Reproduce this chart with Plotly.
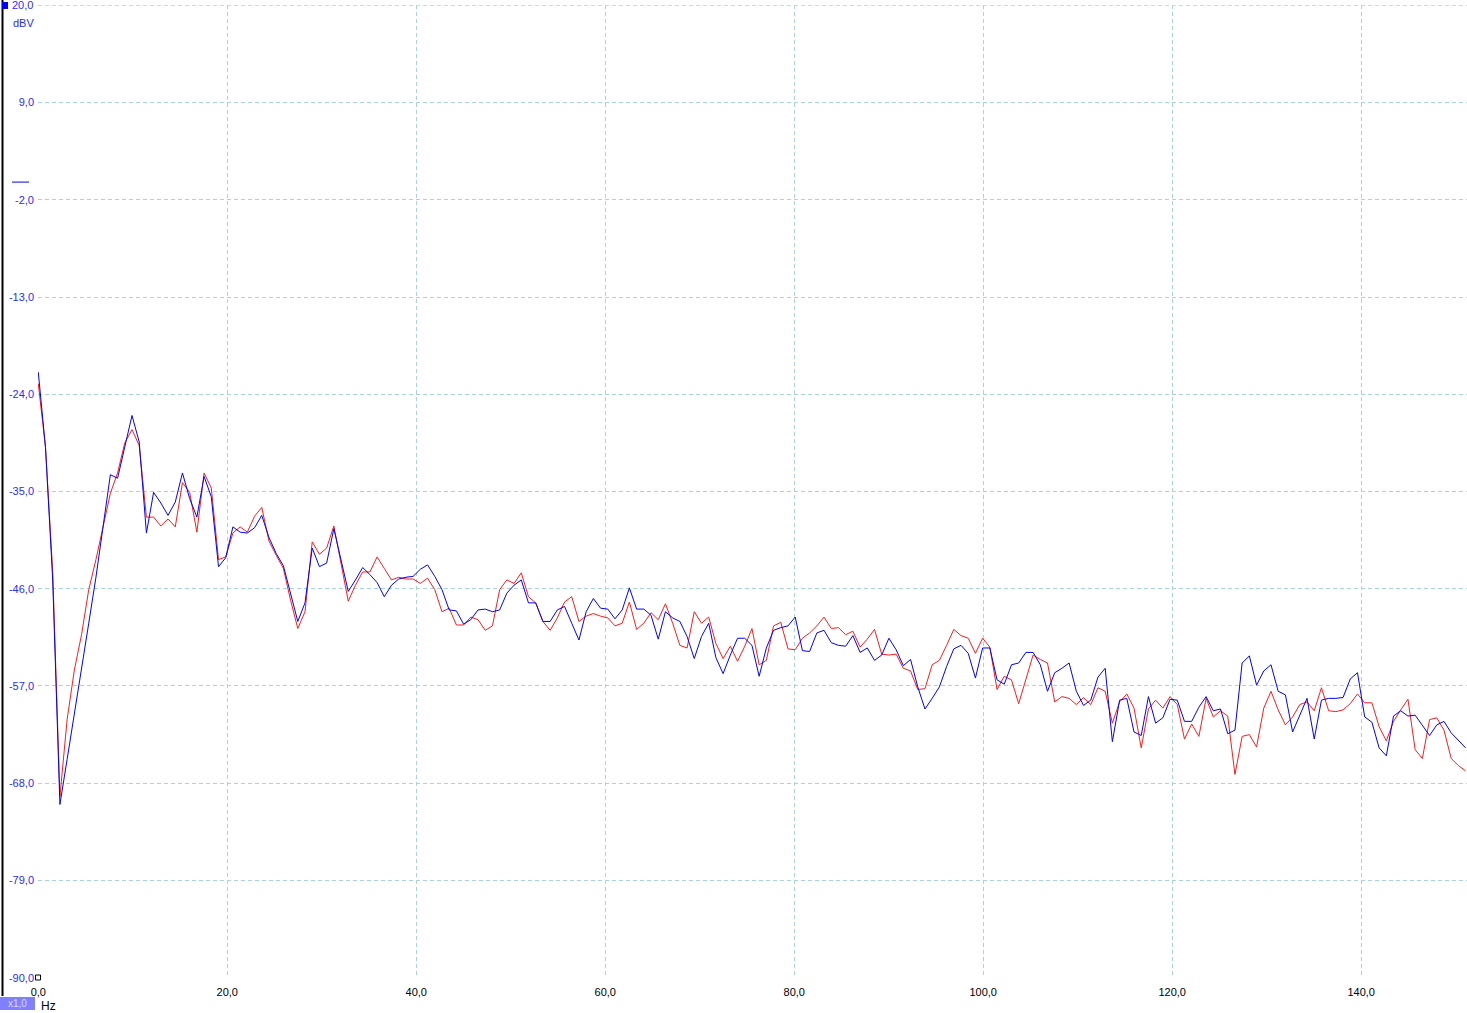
import plotly.graph_objects as go

BIN_HZ = 0.7629

x_tick_vals = [0, 20, 40, 60, 80, 100, 120, 140]
x_tick_text = ["0,0", "20,0", "40,0", "60,0", "80,0", "100,0", "120,0", "140,0"]
y_tick_vals = [20, 9, -2, -13, -24, -35, -46, -57, -68, -79, -90]
y_tick_text = ["20,0", "9,0", "-2,0", "-13,0", "-24,0", "-35,0", "-46,0", "-57,0", "-68,0", "-79,0", "-90,0"]

blue_dbv = [
    -21.5, -30.0, -45.0, -70.4, -65.3, -60.0, -55.2, -49.9, -44.7, -39.0,
    -33.1, -33.5, -30.0, -26.4, -29.4, -39.7, -35.1, -36.3, -37.7, -36.2,
    -32.9, -35.8, -37.9, -33.3, -35.6, -43.5, -42.5, -39.0, -39.6, -39.7,
    -39.1, -37.7, -40.2, -42.0, -43.4, -46.7, -49.7, -47.6, -41.4, -43.5,
    -43.1, -39.2, -42.6, -46.3, -45.0, -43.6, -44.4, -45.3, -46.9, -45.6,
    -44.9, -44.7, -44.6, -43.8, -43.3, -44.6, -46.1, -48.4, -48.5, -50.0,
    -49.5, -48.4, -48.3, -48.6, -48.4, -46.5, -45.6, -45.0, -47.6, -47.6,
    -49.7, -49.7, -48.4, -48.0, -49.9, -51.8, -48.6, -47.1, -48.2, -48.3,
    -49.4, -48.4, -45.9, -48.3, -48.3, -49.0, -51.7, -48.6, -49.3, -49.7,
    -51.4, -53.9, -51.4, -49.9, -53.8, -55.6, -53.5, -51.6, -51.6, -52.4,
    -55.9, -52.7, -50.7, -50.4, -50.2, -49.2, -53.0, -53.1, -51.0, -50.7,
    -52.1, -52.4, -52.5, -51.3, -53.2, -52.7, -54.1, -53.5, -51.6, -52.9,
    -54.7, -54.0, -57.1, -59.6, -58.4, -57.1, -54.8, -52.8, -52.4, -53.3,
    -56.1, -52.7, -52.7, -56.3, -56.8, -54.6, -54.4, -53.2, -53.2, -54.6,
    -57.6, -55.5, -55.0, -54.4, -57.6, -59.2, -58.6, -56.0, -55.0, -63.3,
    -58.6, -58.4, -62.2, -62.6, -58.2, -61.2, -60.6, -58.5, -58.6, -61.0,
    -61.0, -59.4, -58.2, -59.8, -59.6, -62.4, -62.0, -54.4, -53.6, -56.9,
    -55.3, -54.6, -57.6, -58.0, -62.2, -60.3, -58.4, -63.0, -58.6, -58.4,
    -58.4, -58.3, -56.2, -55.5, -60.5, -61.1, -64.0, -64.9, -60.4, -59.8,
    -60.4, -60.3, -61.4, -62.6, -61.4, -61.0, -62.3, -63.1, -64.0,
]

red_dbv = [
    -22.8, -30.0, -44.0, -69.5, -60.8, -55.2, -51.2, -46.1, -42.7, -39.0,
    -35.2, -32.9, -29.5, -28.0, -29.8, -37.9, -37.9, -38.9, -38.1, -39.0,
    -34.0, -35.1, -39.6, -32.9, -34.6, -42.7, -42.4, -39.7, -39.0, -39.6,
    -37.8, -36.8, -40.6, -42.2, -43.7, -47.3, -50.5, -48.6, -40.7, -42.1,
    -41.4, -38.9, -43.3, -47.4, -45.6, -44.1, -44.1, -42.4, -43.7, -45.0,
    -44.7, -44.9, -44.9, -45.4, -44.8, -46.1, -48.6, -48.2, -50.1, -50.1,
    -49.2, -49.5, -50.7, -50.2, -46.1, -45.0, -45.4, -44.2, -46.9, -47.6,
    -49.7, -50.7, -49.3, -47.5, -46.9, -49.7, -49.1, -48.8, -49.1, -49.3,
    -50.2, -49.9, -47.5, -50.6, -49.9, -48.7, -49.5, -47.7, -49.9, -52.4,
    -52.7, -48.6, -49.9, -49.2, -52.2, -53.9, -52.5, -54.2, -52.5, -50.5,
    -54.6, -54.1, -50.2, -49.8, -52.8, -52.9, -51.6, -51.0, -50.2, -49.2,
    -50.5, -50.4, -51.2, -50.8, -52.6, -51.7, -50.6, -53.4, -53.5, -53.4,
    -55.0, -55.3, -57.4, -57.3, -54.6, -54.1, -52.4, -50.6, -51.3, -51.6,
    -53.3, -51.6, -52.6, -57.4, -55.9, -56.3, -59.0, -56.1, -53.5, -54.0,
    -54.4, -58.8, -58.2, -58.4, -59.1, -58.3, -59.1, -57.2, -57.6, -61.2,
    -58.8, -57.9, -59.5, -64.0, -59.6, -58.6, -59.5, -58.2, -59.1, -63.0,
    -61.3, -62.7, -58.4, -60.5, -59.8, -60.4, -67.0, -62.7, -62.5, -63.9,
    -59.5, -57.6, -59.7, -61.4, -60.5, -59.1, -58.8, -59.8, -57.2, -59.8,
    -59.9, -59.7, -59.0, -57.9, -58.9, -58.9, -61.6, -63.2, -61.0, -59.7,
    -58.5, -64.2, -65.2, -60.8, -60.6, -62.0, -65.2, -66.0, -66.6,
]

freq_hz = [i * BIN_HZ for i in range(len(blue_dbv))]

W, H = 1467, 1013
ML, MR, MT, MB = 38, 0, 5, 35
PW, PH = W - ML - MR, H - MT - MB


def px(xp):
    return (xp - ML) / PW


def py(yp):
    return 1 - (yp - MT) / PH


fig = go.Figure()
fig.add_trace(go.Scatter(x=freq_hz, y=red_dbv, mode="lines",
                         line=dict(color="#ff1a1a", width=1), showlegend=False))
fig.add_trace(go.Scatter(x=freq_hz, y=blue_dbv, mode="lines",
                         line=dict(color="#0000ff", width=1), showlegend=False))

grid = "#a9d3dd"
FONT = "Liberation Sans"
YCOL = "#2b2bff"
# top tick (at the plot edge) is labelled separately below; the rest go on the axis
fig.update_layout(
    width=W, height=H,
    margin=dict(l=ML, r=MR, t=MT, b=MB, pad=0),
    paper_bgcolor="white", plot_bgcolor="white",
    font=dict(family=FONT, size=11),
    xaxis=dict(range=[-0.03, 151.2], tickmode="array", tickvals=x_tick_vals, ticktext=x_tick_text,
               showgrid=True, gridcolor=grid, griddash="4px,3px", gridwidth=1,
               zeroline=False, showline=False, ticks="", automargin=False,
               ticklabelstandoff=6,
               tickfont=dict(color="#000000", size=11, family=FONT)),
    yaxis=dict(range=[-90.03, 20.03], tickmode="array", tickvals=y_tick_vals[1:], ticktext=y_tick_text[1:],
               showgrid=True, gridcolor=grid, griddash="4px,3px", gridwidth=1,
               zeroline=False, showline=False, ticks="", automargin=False,
               ticklabelstandoff=3,
               tickfont=dict(color=YCOL, size=11, family=FONT)),
)

shapes = [
    # top gridline at the first y tick
    dict(type="line", xref="paper", yref="y", x0=0, x1=1, y0=y_tick_vals[0], y1=y_tick_vals[0],
         line=dict(color=grid, width=1, dash="4px,3px")),
    # left black frame line
    dict(type="line", xref="paper", yref="paper", x0=px(2.5), x1=px(2.5), y0=py(0), y1=py(996),
         line=dict(color="black", width=2)),
    # small blue square top-left
    dict(type="rect", xref="paper", yref="paper", x0=px(2), x1=px(8), y0=py(2), y1=py(9),
         fillcolor="#0000ff", line=dict(width=0)),
    # zero-level marker
    dict(type="line", xref="paper", yref="y", x0=px(12), x1=px(29), y0=0, y1=0,
         line=dict(color="#0000ff", width=1)),
    # small square at bottom of y-axis
    dict(type="rect", xref="paper", yref="paper", x0=px(35.5), x1=px(40.5), y0=py(975), y1=py(980),
         fillcolor="white", line=dict(color="black", width=1)),
    # x1,0 box
    dict(type="rect", xref="paper", yref="paper", x0=px(0), x1=px(35), y0=py(997), y1=py(1010),
         fillcolor="#8080ff", line=dict(width=0)),
]
fig.update_layout(shapes=shapes)

fig.add_annotation(text=y_tick_text[0], xref="paper", yref="y", x=px(35), y=y_tick_vals[0],
                   xanchor="right", yanchor="middle", showarrow=False,
                   font=dict(color=YCOL, size=11, family=FONT))
fig.add_annotation(text="dBV", xref="paper", yref="paper", x=px(36), y=py(23),
                   xanchor="right", yanchor="middle", showarrow=False,
                   font=dict(color=YCOL, size=11, family=FONT))
fig.add_annotation(text="x1,0", xref="paper", yref="paper", x=px(17.5), y=py(1003.5),
                   xanchor="center", yanchor="middle", showarrow=False,
                   font=dict(color="#d8d8ff", size=10, family=FONT))
fig.add_annotation(text="Hz", xref="paper", yref="paper", x=px(39), y=py(1006),
                   xanchor="left", yanchor="middle", showarrow=False,
                   font=dict(color="#000000", size=12, family=FONT))

fig.write_html("out.html", config={"displayModeBar": False},
               post_script="document.body.style.margin='0';")
